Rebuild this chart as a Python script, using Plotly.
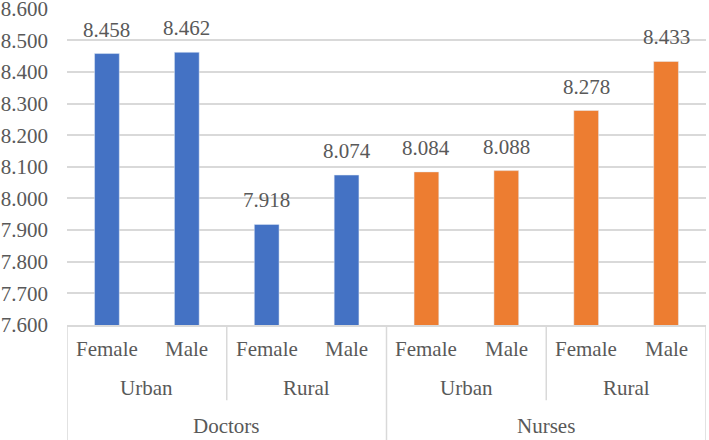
import plotly.graph_objects as go

professions = ["Doctors", "Nurses"]
areas = ["Urban", "Rural"]
genders = ["Female", "Male"]
doctor_values = [8.458, 8.462, 7.918, 8.074]
nurse_values = [8.084, 8.088, 8.278, 8.433]
y_ticks = [7.6, 7.7, 7.8, 7.9, 8.0, 8.1, 8.2, 8.3, 8.4, 8.5, 8.6]

BLUE = "#4472C4"
ORANGE = "#ED7D31"
GRID = "#D9D9D9"
TXT = "#595959"
FONT = "Liberation Serif, Times New Roman, serif"
FS = 21

x_doc = [0, 1, 2, 3]
x_nur = [4, 5, 6, 7]

fig = go.Figure()
fig.add_trace(go.Bar(x=x_doc, y=doctor_values, marker_color=BLUE, width=0.31,
                     name="Doctors", showlegend=False, hoverinfo="y"))
fig.add_trace(go.Bar(x=x_nur, y=nurse_values, marker_color=ORANGE, width=0.31,
                     name="Nurses", showlegend=False, hoverinfo="y"))

ann = []
for xs, vals in ((x_doc, doctor_values), (x_nur, nurse_values)):
    for x, v in zip(xs, vals):
        ann.append(dict(x=x, y=v, xref="x", yref="y", text=f"{v:.3f}",
                        showarrow=False, yanchor="bottom", yshift=10,
                        font=dict(family=FONT, size=FS, color=TXT)))

# category labels
gender_labels = genders * 4
for i, g in enumerate(gender_labels):
    ann.append(dict(x=i, y=-0.077, xref="x", yref="paper", text=g, showarrow=False,
                    yanchor="middle", font=dict(family=FONT, size=FS, color=TXT)))
area_labels = areas * 2
for j, a in enumerate(area_labels):
    ann.append(dict(x=2 * j + 0.5, y=-0.20, xref="x", yref="paper", text=a, showarrow=False,
                    yanchor="middle", font=dict(family=FONT, size=FS, color=TXT)))
for k, p in enumerate(professions):
    ann.append(dict(x=4 * k + 1.5, y=-0.32, xref="x", yref="paper", text=p, showarrow=False,
                    yanchor="middle", font=dict(family=FONT, size=FS, color=TXT)))

shapes = []
for xv, ybot in ((-0.5, -0.37), (1.5, -0.237), (3.5, -0.37), (5.5, -0.237), (7.5, -0.37)):
    shapes.append(dict(type="line", xref="x", yref="paper", x0=xv, x1=xv, y0=0, y1=ybot,
                       line=dict(color=GRID, width=1.5)))

fig.update_layout(
    width=709, height=440,
    margin=dict(l=67, r=3, t=8, b=115),
    plot_bgcolor="white", paper_bgcolor="white",
    annotations=ann, shapes=shapes,
    xaxis=dict(range=[-0.5, 7.5], showticklabels=False, showgrid=False, zeroline=False,
               showline=True, linecolor=GRID, linewidth=1.5, fixedrange=True,
               automargin=False),
    yaxis=dict(range=[7.6, 8.602], tickvals=y_ticks, tickformat=".3f",
               showgrid=True, gridcolor=GRID, gridwidth=1.5, zeroline=False,
               showline=False, ticklabelstandoff=18, automargin=False,
               ticklabeloverflow="allow",
               tickfont=dict(family=FONT, size=FS, color=TXT)),
)

fig.write_html("out.html", config={"displayModeBar": False},
               post_script="document.body.style.margin='0';document.body.style.padding='0';")
